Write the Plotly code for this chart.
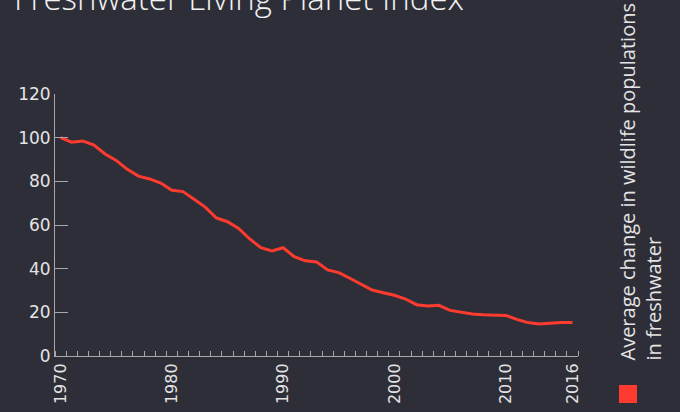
import plotly.graph_objects as go

years = list(range(1970, 2017))
index_values = [100, 97.9, 98.5, 96.6, 92.5, 89.6, 85.5, 82.4, 81.1, 79.2,
                75.9, 75.3, 71.8, 68.2, 63.2, 61.5, 58.4, 53.6, 49.6, 48.1,
                49.6, 45.5, 43.6, 43.1, 39.4, 38.2, 35.6, 33.0, 30.2, 29.0,
                27.8, 26.1, 23.5, 22.9, 23.2, 20.9, 20.2, 19.2, 18.9, 18.9,
                18.6, 16.8, 15.3, 14.7, 15.1, 15.4, 15.3]
x_tick_labels = [1970, 1980, 1990, 2000, 2010, 2016]
y_tick_values = [0, 20, 40, 60, 80, 100, 120]

title_text = "Freshwater Living Planet Index"
legend_text = "Average change in wildlife populations<br>in freshwater"

BG = "#2e2e38"
RED = "#ff3b30"
AXIS = "#a8a8a8"
TXT = "#e4e4e4"

fig = go.Figure()
fig.add_trace(go.Scatter(x=years, y=index_values, mode="lines",
                         line=dict(color=RED, width=3), showlegend=False,
                         hoverinfo="skip"))

boundaries = [y - 0.5 for y in years] + [years[-1] + 0.5]

fig.update_layout(
    width=680, height=412,
    paper_bgcolor=BG, plot_bgcolor=BG,
    margin=dict(l=55, r=102, t=94, b=56, autoexpand=False),
    showlegend=False,
    xaxis=dict(range=[years[0] - 0.5, years[-1] + 0.5],
               tickmode="array", tickvals=x_tick_labels,
               ticktext=[str(v) for v in x_tick_labels],
               ticks="", tickangle=-90, automargin=False,
               tickfont=dict(family="DejaVu Sans", size=16, color=TXT),
               showgrid=False, zeroline=False,
               showline=True, linecolor=AXIS, linewidth=1,
               minor=dict(tickmode="array", tickvals=boundaries,
                          ticks="inside", ticklen=5, tickcolor=AXIS,
                          tickwidth=1, showgrid=False)),
    yaxis=dict(range=[0, 120], tickmode="array", tickvals=y_tick_values,
               ticks="inside", ticklen=13, tickcolor=AXIS, tickwidth=1,
               automargin=False,
               tickfont=dict(family="DejaVu Sans", size=17, color=TXT),
               showgrid=False, zeroline=False,
               showline=True, linecolor=AXIS, linewidth=1),
    annotations=[
        dict(text=title_text, xref="paper", yref="paper",
             x=(12 - 55) / 523, y=1 + (94 - 22) / 262,
             xanchor="left", yanchor="bottom", showarrow=False,
             font=dict(family="Open Sans", size=33, color="#f2f2f2", weight=300)),
        dict(text=legend_text, xref="paper", yref="paper",
             x=(640 - 55) / 523, y=(356 - 363) / 262,
             xanchor="center", yanchor="bottom", showarrow=False,
             textangle=-90, align="left",
             font=dict(family="Open Sans", size=20, color=TXT)),
    ],
    shapes=[dict(type="rect", xref="paper", yref="paper",
                 x0=(619 - 55) / 523, x1=(637 - 55) / 523,
                 y0=(356 - 403) / 262, y1=(356 - 385) / 262,
                 fillcolor=RED, line=dict(width=0))],
)

fig.write_html("out.html", config={"displayModeBar": False},
               post_script="document.body.style.margin='0';document.body.style.padding='0';")
